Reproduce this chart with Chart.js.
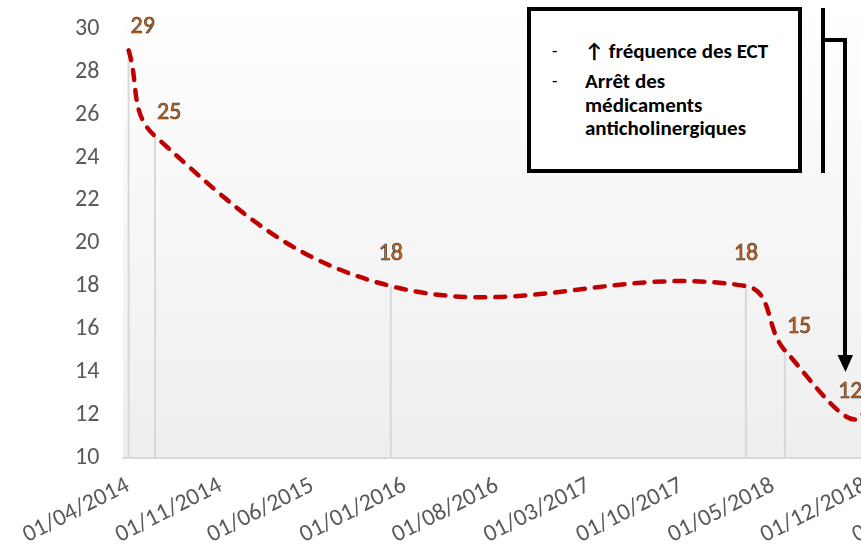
<!DOCTYPE html>
<html>
<head>
<meta charset="utf-8">
<script src="https://cdn.jsdelivr.net/npm/chart.js@4.4.1/dist/chart.umd.min.js"></script>
<style>
  html, body { margin: 0; padding: 0; background: #ffffff; overflow: hidden; }
  #wrap { position: relative; width: 861px; height: 553px; overflow: hidden; background: #ffffff; }
  #c { position: absolute; left: 0; top: 0; }
  .box {
    position: absolute; left: 527px; top: 7px; width: 275px; height: 166px;
    box-sizing: border-box; border: 4px solid #000; background: #ffffff;
    font-family: Carlito, Calibri, Lato, "DejaVu Sans", sans-serif; font-weight: bold;
    font-size: 21px; color: #000; line-height: 23.5px;
  }
  .item { position: absolute; left: 54px; white-space: nowrap; }
  .dash { position: absolute; left: -33px; font-weight: normal; font-size: 18px; }
  #arrow { position: absolute; left: 0; top: 0; }
</style>
</head>
<body>
<div id="wrap">
  <canvas id="c" width="1040" height="553"></canvas>
  <div class="box">
    <div class="item" style="top:29px;"><span class="dash">-</span>↑ fréquence des ECT</div>
    <div class="item" style="top:59px;"><span class="dash">-</span>Arrêt des<br>médicaments<br>anticholinergiques</div>
  </div>
  <svg id="arrow" width="861" height="553">
    <line x1="823" y1="8" x2="823" y2="173" stroke="#000" stroke-width="4"/>
    <line x1="821" y1="40" x2="847" y2="40" stroke="#000" stroke-width="4"/>
    <line x1="845" y1="38" x2="845" y2="357" stroke="#000" stroke-width="4"/>
    <polygon points="837.5,355 853,355 845.5,372" fill="#000"/>
  </svg>
</div>
<script>
// ---- data ----
const startDate = '2014-04-01';
const measureDates = ['2014-04-14', '2014-06-14', '2015-12-11', '2018-03-11', '2018-06-09', '2018-12-05', '2019-03-01'];
const scores = [29, 25, 18, 18, 15, 12, 24];
const labelSides = ['right', 'right', 'above', 'above', 'right', 'left', 'none'];
const tickDates = ['2014-04-01', '2014-11-01', '2015-06-01', '2016-01-01', '2016-08-01', '2017-03-01', '2017-10-01', '2018-05-01', '2018-12-01', '2019-07-01'];
const tickLabels = ['01/04/2014', '01/11/2014', '01/06/2015', '01/01/2016', '01/08/2016', '01/03/2017', '01/10/2017', '01/05/2018', '01/12/2018', '01/07/2019'];
const yMin = 10, yMax = 30, yStep = 2;

function dayIndex(d) {
  const [y, m, dd] = d.split('-').map(Number);
  const [y0, m0, d0] = startDate.split('-').map(Number);
  return (Date.UTC(y, m - 1, dd) - Date.UTC(y0, m0 - 1, d0)) / 86400000;
}
const points = measureDates.map((d, i) => ({ x: dayIndex(d), y: scores[i] }));
const tickDays = tickDates.map(dayIndex);

const FONT = 'Carlito, Calibri, Lato, sans-serif';
const CW = 1040, AX_MAX = 2000, PLOT_RIGHT = 988.2;

const bgPlugin = {
  id: 'bg',
  beforeDraw(chart) {
    const { ctx, chartArea: a } = chart;
    const g = ctx.createLinearGradient(0, 0, 0, a.bottom);
    g.addColorStop(0, '#ffffff');
    g.addColorStop(1, '#eeeeee');
    ctx.save();
    ctx.fillStyle = g;
    ctx.fillRect(a.left, 0, a.right - a.left, a.bottom);
    ctx.restore();
  }
};

const dropLines = {
  id: 'dropLines',
  beforeDatasetsDraw(chart) {
    const { ctx, chartArea: a } = chart;
    const meta = chart.getDatasetMeta(0);
    ctx.save();
    ctx.strokeStyle = '#d9d9d9';
    ctx.lineWidth = 2;
    meta.data.forEach(p => {
      ctx.beginPath();
      ctx.moveTo(p.x, p.y);
      ctx.lineTo(p.x, a.bottom);
      ctx.stroke();
    });
    ctx.restore();
  }
};

const dataLabels = {
  id: 'dataLabels',
  afterDatasetsDraw(chart) {
    const { ctx } = chart;
    const meta = chart.getDatasetMeta(0);
    ctx.save();
    ctx.font = '24px ' + FONT;
    ctx.textBaseline = 'middle';
    meta.data.forEach((p, i) => {
      const side = labelSides[i];
      if (side === 'none') return;
      let x = p.x, y = p.y;
      if (side === 'right') { ctx.textAlign = 'left'; x += 2; y -= 23; }
      else if (side === 'above') { ctx.textAlign = 'center'; y -= 32; }
      else { ctx.textAlign = 'right'; y -= 23; }
      const t = String(scores[i]);
      ctx.fillStyle = '#d06a22';
      ctx.fillText(t, x, y);
      ctx.strokeStyle = '#3a2a1c';
      ctx.lineWidth = 0.6;
      ctx.strokeText(t, x, y);
    });
    ctx.restore();
  }
};

new Chart(document.getElementById('c'), {
  type: 'line',
  data: {
    datasets: [{
      data: points,
      borderColor: '#c00000',
      borderWidth: 4.5,
      borderDash: [10, 10],
      borderCapStyle: 'round',
      tension: 0.4,
      pointRadius: 0,
      fill: false
    }]
  },
  options: {
    responsive: false,
    animation: false,
    devicePixelRatio: 1,
    layout: { padding: { left: 75, top: 29, right: CW - PLOT_RIGHT, bottom: 0 } },
    plugins: { legend: { display: false }, tooltip: { enabled: false } },
    scales: {
      x: {
        type: 'linear',
        min: 0,
        max: AX_MAX,
        grid: { display: false },
        border: { display: true, color: '#d9d9d9', width: 2 },
        afterBuildTicks(scale) { scale.ticks = tickDays.map(v => ({ value: v })); },
        afterFit(scale) { scale.height = 95.5; },
        ticks: {
          autoSkip: false,
          minRotation: 27,
          maxRotation: 27,
          padding: 6,
          labelOffset: 5,
          color: '#595959',
          font: { family: FONT, size: 24 },
          callback: (v, i) => tickLabels[i]
        }
      },
      y: {
        min: yMin,
        max: yMax,
        grid: { display: false },
        border: { display: false },
        afterFit(scale) { scale.width = 48; },
        ticks: {
          stepSize: yStep,
          padding: 0,
          crossAlign: 'far',
          color: '#595959',
          font: { family: FONT, size: 24 }
        }
      }
    }
  },
  plugins: [bgPlugin, dropLines, dataLabels]
});
</script>
</body>
</html>
